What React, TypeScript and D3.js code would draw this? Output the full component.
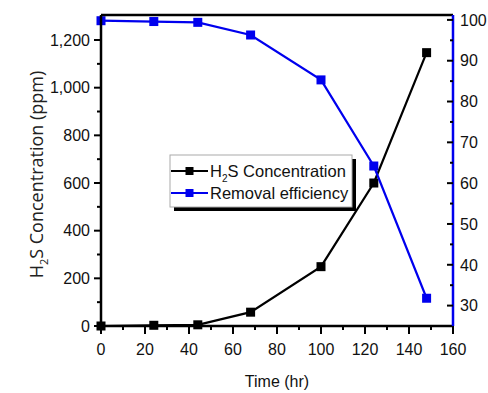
import * as d3 from "d3"

const times = [0, 24, 44, 68, 100, 124, 148]
const h2sConc = [0, 3, 5, 58, 249, 600, 1147]
const removalEff = [99.8, 99.6, 99.4, 96.3, 85.3, 64.2, 31.8]

const xTicks = [0, 20, 40, 60, 80, 100, 120, 140, 160]
const leftTicks = [0, 200, 400, 600, 800, 1000, 1200]
const rightTicks = [30, 40, 50, 60, 70, 80, 90, 100]

const W = 488
const H = 393
const margin = { top: 15, right: 35, bottom: 67, left: 101 }

export default function App() {
  const x = d3.scaleLinear().domain([0, 160]).range([margin.left, W - margin.right])
  const yL = d3.scaleLinear().domain([0, 1305]).range([H - margin.bottom, margin.top])
  const yR = d3.scaleLinear().domain([25, 101.2]).range([H - margin.bottom, margin.top])

  const x0 = x(0)
  const x1 = x(160)
  const yb = yL(0)
  const yt = margin.top

  const lineL = d3
    .line<number>()
    .x((_, i) => x(times[i]))
    .y((d) => yL(d))
  const lineR = d3
    .line<number>()
    .x((_, i) => x(times[i]))
    .y((d) => yR(d))

  const fmt = d3.format(",")
  const tickFont = "Liberation Sans, Arial, sans-serif"

  // minor ticks
  const xMinor = d3.range(10, 160, 20)
  const leftMinor = d3.range(100, 1300, 200)
  const rightMinor = d3.range(35, 100, 10)

  const lg = { x: 170, y: 155, w: 182, h: 52 }

  return (
    <svg width={W} height={H} style={{ position: "absolute", left: 0, top: 0, background: "#fff" }}>
      {/* legend shadow + box */}
      <rect x={lg.x + 4} y={lg.y + 4} width={lg.w} height={lg.h} fill="#000" />
      <rect x={lg.x} y={lg.y} width={lg.w} height={lg.h} fill="#fff" stroke="#aaa" strokeWidth={1} />
      <g fontFamily={tickFont} fontSize={16.5} fill="#111">
        <line x1={lg.x + 1} x2={lg.x + 38} y1={lg.y + 16} y2={lg.y + 16} stroke="#000" strokeWidth={2} />
        <rect x={lg.x + 15.5} y={lg.y + 12} width={8} height={8} fill="#000" />
        <text x={lg.x + 40} y={lg.y + 22}>
          H<tspan fontSize={10} dy={5}>2</tspan>
          <tspan dy={-5}>S Concentration</tspan>
        </text>
        <line x1={lg.x + 1} x2={lg.x + 38} y1={lg.y + 38} y2={lg.y + 38} stroke="#0000ee" strokeWidth={2} />
        <rect x={lg.x + 15.5} y={lg.y + 34} width={8} height={8} fill="#0000ee" />
        <text x={lg.x + 40} y={lg.y + 44}>Removal efficiency</text>
      </g>

      {/* data */}
      <path d={lineL(h2sConc) ?? ""} fill="none" stroke="#000" strokeWidth={2.2} />
      {h2sConc.map((v, i) => (
        <rect key={"b" + i} x={x(times[i]) - 4.5} y={yL(v) - 4.5} width={9} height={9} fill="#000" />
      ))}
      <path d={lineR(removalEff) ?? ""} fill="none" stroke="#0000ee" strokeWidth={2.2} />
      {removalEff.map((v, i) => (
        <rect key={"r" + i} x={x(times[i]) - 4.5} y={yR(v) - 4.5} width={9} height={9} fill="#0000ee" />
      ))}

      {/* frame */}
      <line x1={x0} x2={x1} y1={yt} y2={yt} stroke="#000" strokeWidth={2.5} />
      <line x1={x0} x2={x1} y1={yb} y2={yb} stroke="#000" strokeWidth={2.5} />
      <line x1={x0} x2={x0} y1={yt} y2={yb} stroke="#000" strokeWidth={2.5} />
      <line x1={x1} x2={x1} y1={yt} y2={yb} stroke="#0000ee" strokeWidth={2.5} />

      {/* bottom axis */}
      <g fontFamily={tickFont} fontSize={16} fill="#111" textAnchor="middle">
        {xTicks.map((t) => (
          <g key={"x" + t}>
            <line x1={x(t)} x2={x(t)} y1={yb} y2={yb + 8} stroke="#000" strokeWidth={2} />
            <text x={x(t)} y={yb + 29}>{t}</text>
          </g>
        ))}
        {xMinor.map((t) => (
          <line key={"xm" + t} x1={x(t)} x2={x(t)} y1={yb} y2={yb + 4} stroke="#000" strokeWidth={2} />
        ))}
        <text x={(x0 + x1) / 2} y={387}>Time (hr)</text>
      </g>

      {/* left axis */}
      <g fontFamily={tickFont} fontSize={16} fill="#111" textAnchor="end">
        {leftTicks.map((t) => (
          <g key={"l" + t}>
            <line x1={x0 - 7} x2={x0} y1={yL(t)} y2={yL(t)} stroke="#000" strokeWidth={2} />
            <text x={x0 - 11} y={yL(t)} dy="0.36em">{fmt(t)}</text>
          </g>
        ))}
        {leftMinor.map((t) => (
          <line key={"lm" + t} x1={x0 - 4} x2={x0} y1={yL(t)} y2={yL(t)} stroke="#000" strokeWidth={2} />
        ))}
      </g>

      {/* right axis */}
      <g fontFamily={tickFont} fontSize={16} fill="#111" textAnchor="start">
        {rightTicks.map((t) => (
          <g key={"r" + t}>
            <line x1={x1 - 6} x2={x1} y1={yR(t)} y2={yR(t)} stroke="#000" strokeWidth={2} />
            <text x={x1 + 7} y={yR(t)} dy="0.36em">{t}</text>
          </g>
        ))}
        {rightMinor.map((t) => (
          <line key={"rm" + t} x1={x1 - 3} x2={x1} y1={yR(t)} y2={yR(t)} stroke="#000" strokeWidth={2} />
        ))}
      </g>

      {/* y label */}
      <text
        transform={`translate(43, ${(yt + yb) / 2 + 4}) rotate(-90)`}
        textAnchor="middle"
        fontFamily="Open Sans, sans-serif"
        fontSize={18}
        fill="#222"
      >
        H<tspan fontSize={11} dy={5}>2</tspan>
        <tspan dy={-5}>S Concentration (ppm)</tspan>
      </text>
    </svg>
  )
}
